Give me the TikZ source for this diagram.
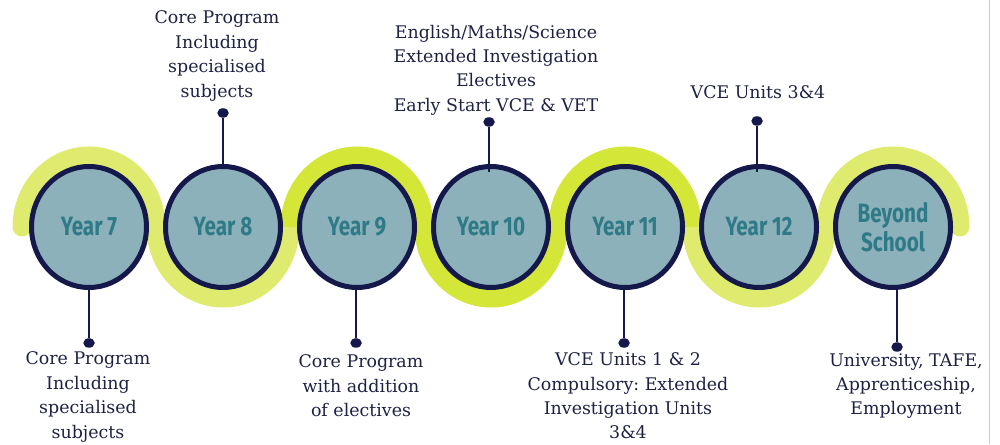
\documentclass[tikz,border=0pt]{standalone}
\usepackage{fontspec}
\setmainfont{DejaVu Serif}
\newfontfamily\yearfont[FakeStretch=0.78]{Fira Sans}
\usetikzlibrary{shapes.geometric}
\definecolor{navy}{HTML}{14184A}
\definecolor{discfill}{HTML}{8DB1BA}
\definecolor{yeartext}{HTML}{2E7A86}
\definecolor{lightgreen}{HTML}{DFEB6E}
\definecolor{brightgreen}{HTML}{D4E637}
\definecolor{bodytext}{HTML}{1E2144}
\frenchspacing
\tikzset{
  disc/.style={ellipse, draw=navy, line width=5pt, fill=discfill,
    minimum width=115pt, minimum height=121pt, inner sep=0pt,
    font=\yearfont\bfseries\fontsize{26.5}{30}\selectfont, text=yeartext, align=center},
  band/.style={line width=19pt, line cap=butt},
  bandend/.style={line width=19pt, line cap=round},
  pin/.style={draw=navy, line width=2.8pt},
  pindot/.style={ellipse, fill=navy, minimum width=11.5pt, minimum height=9.5pt, inner sep=0pt},
  label/.style={font=\fontsize{17.4}{24.4}\selectfont, text=bodytext, align=center}
}
\begin{document}
\begin{tikzpicture}[x=1pt,y=1pt]
\useasboundingbox (0,0) rectangle (1000,444);
% right border line
\draw[gray!40, line width=1pt] (989,0) -- (989,444);
% green wave
\draw[bandend, lightgreen] (22,217) arc[start angle=180, end angle=0, x radius=67, y radius=71];
\draw[bandend, lightgreen] (826,217) arc[start angle=180, end angle=0, x radius=67, y radius=71];
\draw[band, lightgreen] (156,217) arc[start angle=180, end angle=360, x radius=67, y radius=71];
\draw[band, brightgreen] (290,217) arc[start angle=180, end angle=0, x radius=67, y radius=71];
\draw[band, brightgreen] (424,217) arc[start angle=180, end angle=360, x radius=67, y radius=71];
\draw[band, brightgreen] (558,217) arc[start angle=180, end angle=0, x radius=67, y radius=71];
\draw[band, lightgreen] (692,217) arc[start angle=180, end angle=360, x radius=67, y radius=71];
% pin end points
\node[pindot] (d7) at (89,101) {};
\node[pindot] (d8) at (223,331) {};
\node[pindot] (d9) at (356,101) {};
\node[pindot] (d10) at (489,322) {};
\node[pindot] (d11) at (624,101) {};
\node[pindot] (d12) at (757,323) {};
\node[pindot] (d13) at (897,97) {};
% discs
\node[disc] (y7) at (89,217) {\raisebox{-4pt}{Year 7}};
\node[disc] (y8) at (223,217) {\raisebox{-4pt}{Year 8}};
\node[disc] (y9) at (357,217) {\raisebox{-4pt}{Year 9}};
\node[disc] (y10) at (491,217) {\raisebox{-4pt}{Year 10}};
\node[disc] (y11) at (625,217) {\raisebox{-4pt}{Year 11}};
\node[disc] (y12) at (759,217) {\raisebox{-4pt}{Year 12}};
\node[disc] (y13) at (893,217) {Beyond\\[-1pt]School};
% pins
\draw[pin] (d7) -- (d7 |- y7.south);
\draw[pin] (d8) -- (d8 |- y8.north);
\draw[pin] (d9) -- (d9 |- y9.south);
\draw[pin] (d10) -- ([yshift=-8pt]d10 |- y10.north);
\draw[pin] (d11) -- (d11 |- y11.south);
\draw[pin] (d12) -- ([yshift=-8pt]d12 |- y12.north);
\draw[pin] (d13) -- (d13 |- y13.south);
% labels
\node[label] (t8) at (217,388) {Core Program\\Including\\specialised\\subjects};
\node[label] (t10) at (496,374) {English/Maths/Science\\Extended Investigation\\Electives\\Early Start VCE \& VET};
\node[label] (t12) at (758,352) {VCE Units 3\&4};
\node[label] (t7) at (88,47) {Core Program\\Including\\specialised\\subjects};
\node[label] (t9) at (361,58) {Core Program\\with addition\\of electives};
\node[label] (t11) at (628,48) {VCE Units 1 \& 2\\Compulsory: Extended\\Investigation Units\\3\&4};
\node[label] (t13) at (906,58) {University, TAFE,\\Apprenticeship,\\Employment};
\end{tikzpicture}
\end{document}
